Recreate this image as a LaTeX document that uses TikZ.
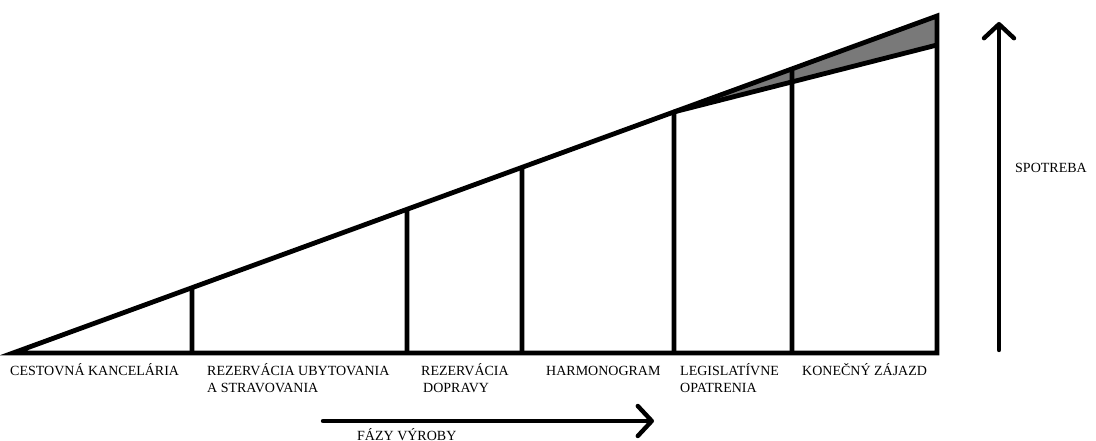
\documentclass[tikz,border=0pt]{standalone}
\usepackage{fontspec}
\setmainfont{Liberation Serif}
\usetikzlibrary{calc,arrows.meta}
\begin{document}
\begin{tikzpicture}[x=1pt,y=-1pt,
  frame/.style={line width=4.8pt,line join=miter},
  post/.style={line width=4.8pt},
  lbl/.style={anchor=base west,inner sep=0pt,font=\fontsize{14}{17}\selectfont},
  bigarrow/.style={line width=4.4pt,line cap=round,-{Straight Barb[length=14pt,width=30pt,line cap=round,line join=round]}}]
\useasboundingbox (0,0) rectangle (1096,441);
% main triangle vertices
\coordinate (A) at (13,353);
\coordinate (B) at (937,353);
\coordinate (T) at (937,16);
\coordinate (L) at (937,45);
% tops of the posts on the hypotenuse
\coordinate (t1) at ($(A)!{(192-13)/924}!(T)$);
\coordinate (t2) at ($(A)!{(407-13)/924}!(T)$);
\coordinate (t3) at ($(A)!{(522-13)/924}!(T)$);
\coordinate (t4) at ($(A)!{(674-13)/924}!(T)$);
\coordinate (t5) at ($(A)!{(792-13)/924}!(T)$);
\coordinate (b1) at (192,353);
\coordinate (b2) at (407,353);
\coordinate (b3) at (522,353);
\coordinate (b4) at (674,353);
\coordinate (b5) at (792,353);
% shaded wedge
\fill[gray!95!black] (t4) -- (T) -- (L) -- cycle;
% posts
\draw[post] (t1) -- (b1);
\draw[post] (t2) -- (b2);
\draw[post] (t3) -- (b3);
\draw[post] (t4) -- (b4);
\draw[post] (t5) -- (b5);
% outline
\draw[frame] (A) -- (T) -- (B) -- cycle;
\draw[frame] (t4) -- (L);
% axes arrows
\coordinate (up0) at (999,350);
\coordinate (up1) at (999,22);
\draw[bigarrow] (up0) -- (up1);
\coordinate (r0) at (323,421);
\coordinate (r1) at (654,421);
\draw[bigarrow] (r0) -- (r1);
% labels
\node[lbl] (l1) at (10,375) {CESTOVNÁ KANCELÁRIA};
\node[lbl] (l2a) at (207,375) {REZERVÁCIA UBYTOVANIA};
\node[lbl] (l2b) at (207,392) {A STRAVOVANIA};
\node[lbl] (l3a) at (421,375) {REZERVÁCIA};
\node[lbl] (l3b) at (423,392) {DOPRAVY};
\node[lbl] (l4) at (546,375) {HARMONOGRAM};
\node[lbl] (l5a) at (680,375) {LEGISLATÍVNE};
\node[lbl] (l5b) at (680,392) {OPATRENIA};
\node[lbl] (l6) at (802,375) {KONEČNÝ ZÁJAZD};
\node[lbl] (l7) at (357,440) {FÁZY VÝROBY};
\node[lbl] (l8) at (1015,172.5) {SPOTREBA};
\end{tikzpicture}
\end{document}
